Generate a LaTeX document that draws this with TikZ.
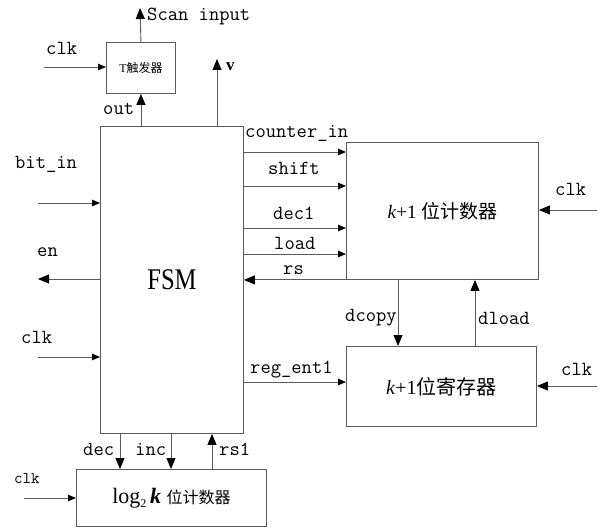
\documentclass[tikz,border=0pt]{standalone}
\usepackage{fontspec}
\setmainfont{Liberation Serif}
\newfontfamily\cjk{Noto Sans CJK SC}
\usetikzlibrary{arrows.meta}
\definecolor{ln}{HTML}{5A5A5A}
\tikzset{
  box/.style={draw=ln, line width=0.9pt, anchor=north west, inner sep=0pt},
  arr/.style={draw=ln, line width=0.9pt, -{Triangle[length=11pt,width=9pt,fill=black,color=black]}},
  sarr/.style={draw=ln, line width=0.9pt, -{Triangle[length=8pt,width=6.5pt,fill=black,color=black]}},
  lbl/.style={font=\ttfamily\fontsize{20}{22}\selectfont, inner sep=0pt, anchor=base west},
}
\begin{document}
\begin{tikzpicture}[x=1pt,y=-1pt]
\useasboundingbox (0,0) rectangle (605,529);
% boxes
\node[box, minimum width=143pt, minimum height=307pt] (fsm) at (100,126)
  {\fontsize{30}{32}\selectfont\scalebox{0.82}[1]{FSM}};
\node[box, minimum width=69pt, minimum height=51pt] (tff) at (106,42)
  {\fontsize{12}{14}\selectfont T\cjk 触发器};
\node[box, minimum width=192pt, minimum height=137pt] (cnt) at (346,142)
  {\fontsize{19}{22}\selectfont\textit{k}+1\ \cjk 位计数器};
\node[box, minimum width=190pt, minimum height=80pt] (reg) at (346,346)
  {\fontsize{20}{22}\selectfont\textit{k}+1\cjk 位寄存器};
\node[box, minimum width=190pt, minimum height=57pt] (lgc) at (76,469)
  {\fontsize{22}{24}\selectfont log\raisebox{-4pt}{\fontsize{12}{12}\selectfont 2}\,\textbf{\textit{k}}\ \fontsize{16}{18}\selectfont\cjk 位计数器};
% free ends
\coordinate (tclk) at (44,67);
\coordinate (scan) at (140,8);
\coordinate (vtop) at (217,59);
\coordinate (cclk) at (597,210);
\coordinate (rclk) at (597,386);
\coordinate (bitin) at (38,203);
\coordinate (enout) at (38,279);
\coordinate (fclk) at (38,357);
\coordinate (lclk) at (24,498);
% connectors
\draw[sarr] (tclk) -- (tff.west |- tclk);
\draw[arr] (fsm.north -| tff.south) -- (tff.south);
\draw[arr] (tff.north) -- (scan);
\draw[arr] (fsm.north -| vtop) -- (vtop);
\draw[sarr] (fsm.east |- 0,152) -- (cnt.west |- 0,152);
\draw[sarr] (fsm.east |- 0,186) -- (cnt.west |- 0,186);
\draw[sarr] (fsm.east |- 0,228) -- (cnt.west |- 0,228);
\draw[sarr] (fsm.east |- 0,254) -- (cnt.west |- 0,254);
\draw[arr] (cnt.south west) -- (fsm.east |- cnt.south west);
\draw[arr] (cclk) -- (cnt.east |- cclk);
\draw[arr] (cnt.south -| 398,0) -- (reg.north -| 398,0);
\draw[arr] (reg.north -| 475,0) -- (cnt.south -| 475,0);
\draw[sarr] (fsm.east |- 0,382) -- (reg.west |- 0,382);
\draw[arr] (rclk) -- (reg.east |- rclk);
\draw[sarr] (bitin) -- (fsm.west |- bitin);
\draw[arr] (fsm.west |- enout) -- (enout);
\draw[sarr] (fclk) -- (fsm.west |- fclk);
\draw[arr] (fsm.south -| 120,0) -- (lgc.north -| 120,0);
\draw[arr] (fsm.south -| 171,0) -- (lgc.north -| 171,0);
\draw[arr] (lgc.north -| 212,0) -- (fsm.south -| 212,0);
\draw[sarr] (lclk) -- (lgc.west |- lclk);
% labels
\node[lbl] (lscan) at (147,21) {Scan input};
\node[lbl] (ltclk) at (46,55) {clk};
\node[lbl] (lout) at (103,115) {out};
\node[lbl, font=\bfseries\fontsize{17}{20}\selectfont] (lv) at (226,71) {v};
\node[lbl] (lci) at (245,138) {counter\_in};
\node[lbl] (lsh) at (268,175) {shift};
\node[lbl] (ldec1) at (273,220) {dec1};
\node[lbl] (lload) at (274,250) {load};
\node[lbl] (lrs) at (283,275) {rs};
\node[lbl] (lcclk) at (555,196) {clk};
\node[lbl] (ldcopy) at (345,321) {dcopy};
\node[lbl] (ldload) at (478,324) {dload};
\node[lbl] (lreg) at (250,373) {reg\_ent1};
\node[lbl] (lrclk) at (561,375) {clk};
\node[lbl] (lbit) at (15,169) {bit\_in};
\node[lbl] (len) at (37,257) {en};
\node[lbl] (lfclk) at (21,343) {clk};
\node[lbl] (ldec) at (83,455) {dec};
\node[lbl] (linc) at (135,455) {inc};
\node[lbl] (lrs1) at (219,455) {rs1};
\node[lbl, font=\ttfamily\fontsize{16.5}{18}\selectfont] (llclk) at (14,483) {clk};
\end{tikzpicture}
\end{document}
